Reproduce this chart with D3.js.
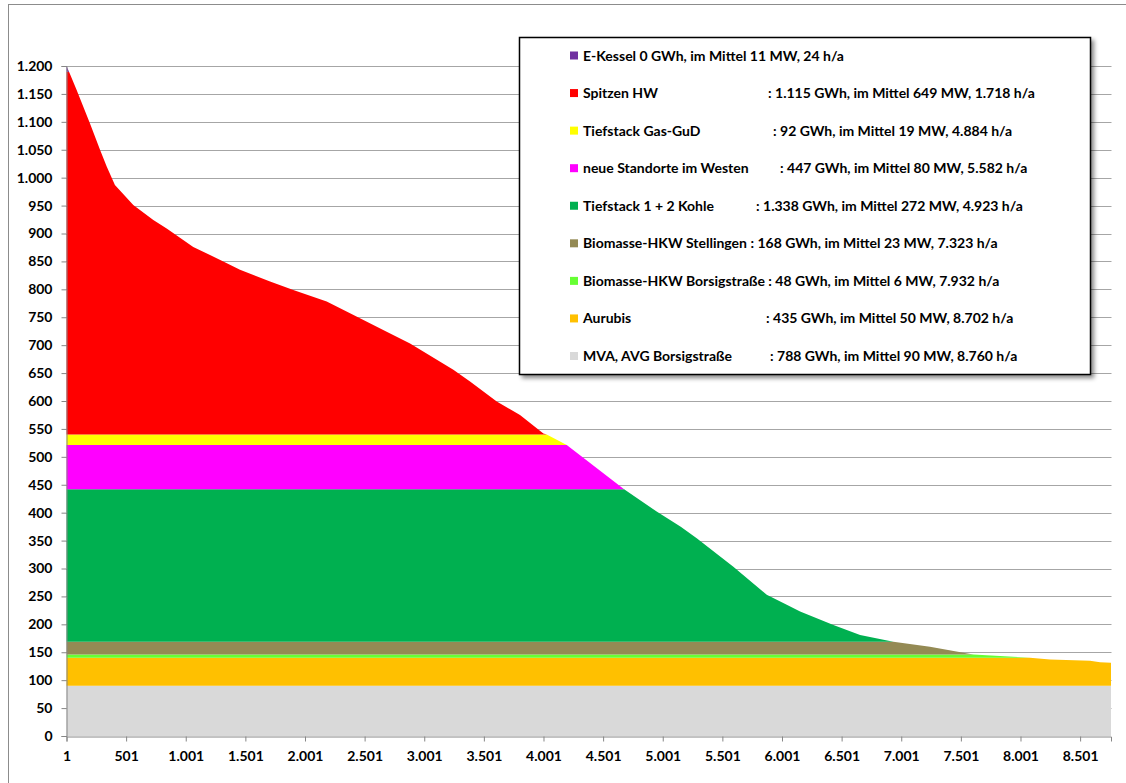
<!DOCTYPE html>
<html>
<head>
<meta charset="utf-8">
<script src="https://cdn.jsdelivr.net/npm/d3@7"></script>
<style>
html,body{margin:0;padding:0;background:#fff;}
svg{display:block;}
text{font-family:Lato,"Open Sans",sans-serif;font-weight:700;fill:#000;}
</style>
</head>
<body>
<svg id="chart" width="1126" height="783"></svg>
<script>
// ---- Data ----
const hours = [1, 24, 86, 198, 282, 338, 407, 561, 729, 841,
  1064, 1316, 1456, 1708, 1903, 2183, 2462, 2686, 2882, 3245,
  3385, 3609, 3804, 4000, 4028, 4196, 4677, 4950, 5152, 5286,
  5593, 5873, 6041, 6153, 6432, 6656, 6935, 7242, 7522, 7606, 7941,
  8081, 8249, 8584, 8668, 8760];

const mva = [90,90,90,90,90,90,90,90,90,90, 90,90,90,90,90,90,90,90,90,90,
  90,90,90,90,90,90,90,90,90,90, 90,90,90,90,90,90,90,90,90,90,90, 90,90,90,90,90];
const aurubis = [50,50,50,50,50,50,50,50,50,50, 50,50,50,50,50,50,50,50,50,50,
  50,50,50,50,50,50,50,50,50,50, 50,50,50,50,50,50,50,50,50,50,50, 50,47,45,42,41];
const borsig = [6,6,6,6,6,6,6,6,6,6, 6,6,6,6,6,6,6,6,6,6,
  6,6,6,6,6,6,6,6,6,6, 6,6,6,6,6,6,6,6,6,6,2, 0,0,0,0,0];
const stellingen = [23,23,23,23,23,23,23,23,23,23, 23,23,23,23,23,23,23,23,23,23,
  23,23,23,23,23,23,23,23,23,23, 23,23,23,23,23,23,23,14,3,0,0, 0,0,0,0,0];
const kohle = [273,273,273,273,273,273,273,273,273,273, 273,273,273,273,273,273,273,273,273,273,
  273,273,273,273,273,273,273,233,206,185, 134,84,66,54,30,12,0,0,0,0,0, 0,0,0,0,0];
const neueStandorte = [79,79,79,79,79,79,79,79,79,79, 79,79,79,79,79,79,79,79,79,79,
  79,79,79,79,79,79,0,0,0,0, 0,0,0,0,0,0,0,0,0,0,0, 0,0,0,0,0];
const gasGuD = [19,19,19,19,19,19,19,19,19,19, 19,19,19,19,19,19,19,19,19,19,
  19,19,19,19,19,0,0,0,0,0, 0,0,0,0,0,0,0,0,0,0,0, 0,0,0,0,0];
const spitzenHW = [650,649,617,557,510,480,447,411,384,369, 336,310,295,274,259,238,208,184,163,116,
  95,59,35,2,0,0,0,0,0,0, 0,0,0,0,0,0,0,0,0,0,0, 0,0,0,0,0];
const eKessel = [10,0,0,0,0,0,0,0,0,0, 0,0,0,0,0,0,0,0,0,0,
  0,0,0,0,0,0,0,0,0,0, 0,0,0,0,0,0,0,0,0,0,0, 0,0,0,0,0];

// stack order (bottom -> top)
const seriesKeys = ["mva","aurubis","borsig","stellingen","kohle","neue","gud","spitzen","ekessel"];
const seriesValues = [mva, aurubis, borsig, stellingen, kohle, neueStandorte, gasGuD, spitzenHW, eKessel];
const seriesColors = ["#D9D9D9","#FFC000","#66FF33","#948A54","#00B050","#FF00FF","#FFFF00","#FF0000","#7030A0"];

// legend (top -> bottom)
const legendKeys = ["ekessel","spitzen","gud","neue","kohle","stellingen","borsig","aurubis","mva"];
const legendNames = ["E-Kessel 0 GWh, im Mittel 11 MW, 24 h/a", "Spitzen HW", "Tiefstack Gas-GuD",
  "neue Standorte im Westen", "Tiefstack 1 + 2 Kohle",
  "Biomasse-HKW Stellingen : 168 GWh, im Mittel 23 MW, 7.323 h/a",
  "Biomasse-HKW Borsigstraße : 48 GWh, im Mittel 6 MW, 7.932 h/a",
  "Aurubis", "MVA, AVG Borsigstraße"];
const legendDetails = ["", ": 1.115 GWh, im Mittel 649 MW, 1.718 h/a", ": 92 GWh, im Mittel 19 MW, 4.884 h/a",
  ": 447 GWh, im Mittel 80 MW, 5.582 h/a", ": 1.338 GWh, im Mittel 272 MW, 4.923 h/a",
  "", "", ": 435 GWh, im Mittel 50 MW, 8.702 h/a", ": 788 GWh, im Mittel 90 MW, 8.760 h/a"];
const legendDetailX = [0, 768, 773, 780, 756, 0, 0, 766, 770];

const yTicks = d3.range(0, 1201, 50);
const xTicks = [1, 501, 1001, 1501, 2001, 2501, 3001, 3501, 4001, 4501, 5001, 5501, 6001, 6501, 7001, 7501, 8001, 8501];

// ---- Drawing ----
const svg = d3.select("#chart");
const de = d3.formatLocale({decimal: ",", thousands: ".", grouping: [3], currency: ["", " €"]});
const fmt = de.format(",d");

const x = d3.scaleLinear().domain([1, 8760]).range([66.5, 1111]);
const y = d3.scaleLinear().domain([0, 1200]).range([736, 66]);

// outer chart frame
svg.append("rect").attr("x", 8.5).attr("y", 4.5).attr("width", 1300).attr("height", 900)
  .attr("fill", "none").attr("stroke", "#8c8c8c").attr("stroke-width", 1);

// gridlines
svg.append("g").selectAll("line").data(yTicks.filter(d => d > 0)).join("line")
  .attr("x1", 66).attr("x2", 1111.5)
  .attr("y1", d => Math.round(y(d)) + 0.5).attr("y2", d => Math.round(y(d)) + 0.5)
  .attr("stroke", "#a6a6a6").attr("stroke-width", 1);

// stacked areas
const table = hours.map((h, i) => {
  const row = {hour: h};
  seriesKeys.forEach((k, j) => row[k] = seriesValues[j][i]);
  return row;
});
const stacked = d3.stack().keys(seriesKeys)(table);
const area = d3.area().x(d => x(d.data.hour)).y0(d => y(d[0])).y1(d => y(d[1]));
const colorOf = d3.scaleOrdinal().domain(seriesKeys).range(seriesColors);
svg.append("g").selectAll("path").data(stacked).join("path")
  .attr("d", area).attr("fill", d => colorOf(d.key)).attr("stroke", "none");

// axes
const yAxis = svg.append("g").attr("transform", "translate(66.5,0)")
  .call(d3.axisLeft(y).tickValues(yTicks).tickFormat(fmt).tickSize(5).tickPadding(9));
const xAxis = svg.append("g").attr("transform", "translate(0,736.5)")
  .call(d3.axisBottom(x).tickValues(xTicks).tickFormat(fmt).tickSize(5).tickPadding(10));
[yAxis, xAxis].forEach(a => {
  a.select(".domain").attr("stroke", "#868686");
  a.selectAll(".tick line").attr("stroke", "#868686");
  a.selectAll(".tick text").attr("font-family", "Lato, 'Open Sans', sans-serif")
    .attr("font-weight", 700).attr("font-size", 14).attr("fill", "#000");
});

// legend
const defs = svg.append("defs");
const f = defs.append("filter").attr("id", "shadow").attr("x", "-5%").attr("y", "-5%").attr("width", "115%").attr("height", "115%");
f.append("feDropShadow").attr("dx", 3).attr("dy", 3).attr("stdDeviation", 2)
  .attr("flood-color", "#000").attr("flood-opacity", 0.45);

const lg = svg.append("g");
lg.append("rect").attr("x", 519.5).attr("y", 37.5).attr("width", 571).attr("height", 337)
  .attr("fill", "#fff").attr("stroke", "#000").attr("stroke-width", 1.5).attr("filter", "url(#shadow)");
const rowY = d3.scaleLinear().domain([0, 8]).range([55.5, 356]);
const items = lg.selectAll("g.item").data(legendKeys).join("g").attr("class", "item")
  .attr("transform", (d, i) => `translate(0,${rowY(i)})`);
items.append("rect").attr("x", 570).attr("y", -4).attr("width", 8).attr("height", 8)
  .attr("fill", d => colorOf(d));
items.append("text").attr("x", 583).attr("y", 0).attr("dy", "0.36em")
  .attr("font-size", 14).text((d, i) => legendNames[i]);
items.append("text").attr("x", (d, i) => legendDetailX[i]).attr("y", 0).attr("dy", "0.36em")
  .attr("font-size", 14).text((d, i) => legendDetails[i]);
</script>
</body>
</html>
